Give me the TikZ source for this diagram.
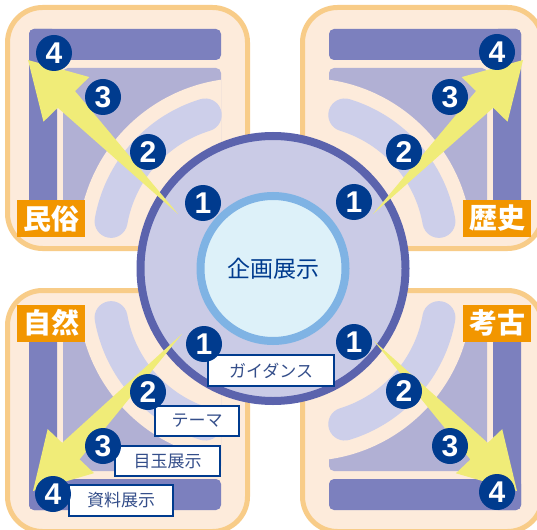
\documentclass[tikz,border=0pt]{standalone}
\usepackage{fontspec}
\newfontfamily\cjk{Noto Sans CJK JP}
\newfontfamily\numfont{Liberation Sans}
\usetikzlibrary{calc}
\definecolor{boxline}{HTML}{F8CC88}
\definecolor{peach}{HTML}{FDEBDB}
\definecolor{darkbar}{HTML}{7C80BE}
\definecolor{lightpur}{HTML}{B1B0D4}
\definecolor{bandcol}{HTML}{CDCFEA}
\definecolor{bigfill}{HTML}{CACBE6}
\definecolor{bigline}{HTML}{5B63AD}
\definecolor{innerfill}{HTML}{DDF1F9}
\definecolor{innerline}{HTML}{7FB3E4}
\definecolor{navy}{HTML}{003B8E}
\definecolor{labelorange}{HTML}{F29600}
\definecolor{labtext}{HTML}{344E8A}
\definecolor{arrowyellow}{HTML}{F0EC78}
\tikzset{
  numcirc/.style={circle, fill=navy, text=white, minimum size=36pt, inner sep=0pt,
    font=\numfont\bfseries\fontsize{30}{30}\selectfont},
  catlabel/.style={fill=labelorange, text=white, minimum width=68pt, minimum height=37pt,
    inner sep=0pt, font=\cjk\bfseries\fontsize{28}{28}\selectfont},
  stagebox/.style={fill=white, draw=navy, line width=1.5pt, inner sep=0pt,
    text=labtext, font=\cjk\fontsize{17}{17}\selectfont},
  quadframe/.style={fill=peach, draw=boxline, line width=5pt, rounded corners=35pt},
}
\newcommand{\quadbox}{%
  \fill[quadframe] (7.5,7.5) rectangle (247.5,248.5);
  \fill[darkbar, rounded corners=5pt] (29,29) rectangle (221,60);
  \fill[darkbar, rounded corners=5pt] (29,29) rectangle (57,221);
  \fill[lightpur, rounded corners=5pt] (63,68) rectangle (221,221);
  \begin{scope}
    \clip (63,68) rectangle (221,221);
    \fill[peach] (245,245) circle[radius=167];
  \end{scope}
  \draw[bandcol, line width=33pt, line cap=round]
    ($(245,245)+(190:136)$) arc[start angle=190, end angle=253, radius=136];
}
\newcommand{\yarrow}[2]{%
  \path ($(#2)!55pt!(#1)$) coordinate (ab);
  \fill[arrowyellow] (#1) -- ($(ab)!12pt!90:(#2)$) -- ($(ab)!32pt!90:(#2)$) -- (#2)
    -- ($(ab)!32pt!-90:(#2)$) -- ($(ab)!12pt!-90:(#2)$) -- cycle;
}
\begin{document}
\begin{tikzpicture}[x=1pt, y=-1pt]
\clip (0,0) rectangle (537,529);
\fill[white] (0,0) rectangle (537,529);
% four quadrant boxes (mirror images)
\begin{scope}\quadbox\end{scope}
\begin{scope}[shift={(550,0)}, xscale=-1]\quadbox\end{scope}
\begin{scope}[shift={(0,539)}, yscale=-1]\quadbox\end{scope}
\begin{scope}[shift={(550,539)}, xscale=-1, yscale=-1]\quadbox\end{scope}
% category labels
\node[catlabel] (minzoku) at (51,218.5) {民俗};
\node[catlabel] (rekishi) at (497,218.5) {歴史};
\node[catlabel] (shizen) at (51,323) {自然};
\node[catlabel] (kouko) at (497,323) {考古};
% central circles
\fill[bigfill, draw=bigline, line width=8pt] (273,268.5) circle[radius=132.5];
\node[circle, fill=innerfill, draw=innerline, line width=8pt, minimum size=145pt, inner sep=0pt,
  text=navy, font=\cjk\fontsize{23}{23}\selectfont] (center) at (273,268.5) {企画展示};
% arrow end points
\coordinate (tltail) at (178,214);
\coordinate (tltip) at (28,60);
\coordinate (trtail) at (373,214);
\coordinate (trtip) at (523,60);
\coordinate (bltail) at (182,334);
\coordinate (bltip) at (33,491);
\coordinate (brtail) at (374,341);
\coordinate (brtip) at (517,491);
\yarrow{tltail}{tltip}
\yarrow{trtail}{trtip}
\yarrow{bltail}{bltip}
\yarrow{brtail}{brtip}
% stage boxes
\node[stagebox, minimum width=126pt, minimum height=31pt] (guide) at (271,370.5) {ガイダンス};
\node[stagebox, minimum width=84pt, minimum height=30pt] (theme) at (197,421) {テーマ};
\node[stagebox, minimum width=105pt, minimum height=30pt] (medama) at (167.5,461) {目玉展示};
\node[stagebox, minimum width=104pt, minimum height=31pt] (shiryo) at (121,500.5) {資料展示};
% numbers
\node[numcirc] (tl1) at (203,203) {1};
\node[numcirc] (tl2) at (148,152) {2};
\node[numcirc] (tl3) at (103,97) {3};
\node[numcirc] (tl4) at (54,53) {4};
\node[numcirc] (tr1) at (354,202) {1};
\node[numcirc] (tr2) at (404,152) {2};
\node[numcirc] (tr3) at (450,97) {3};
\node[numcirc] (tr4) at (497,52) {4};
\node[numcirc] (bl1) at (204,344) {1};
\node[numcirc] (bl2) at (148,392) {2};
\node[numcirc] (bl3) at (103,446) {3};
\node[numcirc] (bl4) at (53,494) {4};
\node[numcirc] (br1) at (354,342) {1};
\node[numcirc] (br2) at (404,391) {2};
\node[numcirc] (br3) at (450,446) {3};
\node[numcirc] (br4) at (497,492) {4};
\end{tikzpicture}
\end{document}
